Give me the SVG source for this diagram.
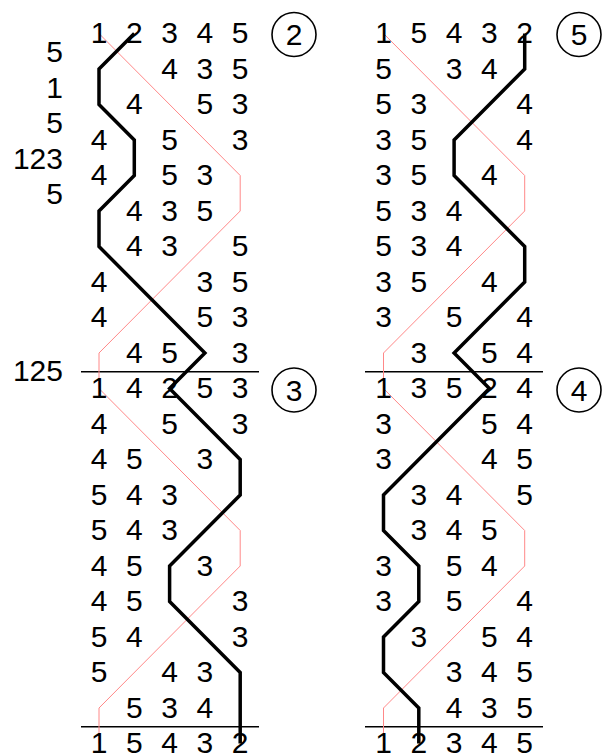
<svg xmlns="http://www.w3.org/2000/svg" width="612" height="756" viewBox="0 0 612 756">
<style>
text{font-family:"Liberation Sans",Arial,sans-serif;font-size:30px;fill:#000;text-anchor:middle}
.lbl{text-anchor:end}
.rule{stroke:#000;stroke-width:1.5;fill:none}
.treble{stroke:#f88;stroke-width:1;fill:none}
.work{stroke:#000;stroke-width:3.5;fill:none;stroke-linejoin:miter;stroke-miterlimit:10}
.ring{stroke:#000;stroke-width:1.6;fill:#fff}
</style>
<rect width="612" height="756" fill="#fff"/>
<g id="connectors">
<line class="rule" x1="81" y1="371.7" x2="259" y2="371.7"/>
<line class="rule" x1="81" y1="726.7" x2="259" y2="726.7"/>
<line class="rule" x1="365" y1="371.7" x2="543" y2="371.7"/>
<line class="rule" x1="365" y1="726.7" x2="543" y2="726.7"/>
<polyline class="treble" points="99,33.5 240.2,175.5 240.2,211 99,353 99,388.5 240.2,530.5 240.2,566 99,708 99,743.5"/>
<polyline class="treble" points="383.5,33.5 524.7,175.5 524.7,211 383.5,353 383.5,388.5 524.7,530.5 524.7,566 383.5,708 383.5,743.5"/>
<polyline class="work" points="134.3,33.5 99,69 99,104.5 134.3,140 134.3,175.5 99,211 99,246.5 204.9,353 169.6,388.5 240.2,459.5 240.2,495 169.6,566 169.6,601.5 240.2,672.5 240.2,743.5"/>
<polyline class="work" points="524.7,33.5 524.7,69 454.1,140 454.1,175.5 524.7,246.5 524.7,282 454.1,353 489.4,388.5 383.5,495 383.5,530.5 418.8,566 418.8,601.5 383.5,637 383.5,672.5 418.8,708 418.8,743.5"/>
</g>
<g id="place-notation">
<text class="lbl" x="63" y="62">5</text>
<text class="lbl" x="63" y="97.5">1</text>
<text class="lbl" x="63" y="133">5</text>
<text class="lbl" x="63" y="168.5">123</text>
<text class="lbl" x="63" y="204">5</text>
<text class="lbl" x="63" y="380.5">125</text>
</g>
<g id="lead-1">
<text x="99" y="43.3">1</text><text x="134.3" y="43.3">2</text><text x="169.6" y="43.3">3</text><text x="204.9" y="43.3">4</text><text x="240.2" y="43.3">5</text>
<text x="169.6" y="78.8">4</text><text x="204.9" y="78.8">3</text><text x="240.2" y="78.8">5</text>
<text x="134.3" y="114.3">4</text><text x="204.9" y="114.3">5</text><text x="240.2" y="114.3">3</text>
<text x="99" y="149.8">4</text><text x="169.6" y="149.8">5</text><text x="240.2" y="149.8">3</text>
<text x="99" y="185.3">4</text><text x="169.6" y="185.3">5</text><text x="204.9" y="185.3">3</text>
<text x="134.3" y="220.8">4</text><text x="169.6" y="220.8">3</text><text x="204.9" y="220.8">5</text>
<text x="134.3" y="256.3">4</text><text x="169.6" y="256.3">3</text><text x="240.2" y="256.3">5</text>
<text x="99" y="291.8">4</text><text x="204.9" y="291.8">3</text><text x="240.2" y="291.8">5</text>
<text x="99" y="327.3">4</text><text x="204.9" y="327.3">5</text><text x="240.2" y="327.3">3</text>
<text x="134.3" y="362.8">4</text><text x="169.6" y="362.8">5</text><text x="240.2" y="362.8">3</text>
</g>
<g id="lead-2">
<text x="99" y="398.3">1</text><text x="134.3" y="398.3">4</text><text x="169.6" y="398.3">2</text><text x="204.9" y="398.3">5</text><text x="240.2" y="398.3">3</text>
<text x="99" y="433.8">4</text><text x="169.6" y="433.8">5</text><text x="240.2" y="433.8">3</text>
<text x="99" y="469.3">4</text><text x="134.3" y="469.3">5</text><text x="204.9" y="469.3">3</text>
<text x="99" y="504.8">5</text><text x="134.3" y="504.8">4</text><text x="169.6" y="504.8">3</text>
<text x="99" y="540.3">5</text><text x="134.3" y="540.3">4</text><text x="169.6" y="540.3">3</text>
<text x="99" y="575.8">4</text><text x="134.3" y="575.8">5</text><text x="204.9" y="575.8">3</text>
<text x="99" y="611.3">4</text><text x="134.3" y="611.3">5</text><text x="240.2" y="611.3">3</text>
<text x="99" y="646.8">5</text><text x="134.3" y="646.8">4</text><text x="240.2" y="646.8">3</text>
<text x="99" y="682.3">5</text><text x="169.6" y="682.3">4</text><text x="204.9" y="682.3">3</text>
<text x="134.3" y="717.8">5</text><text x="169.6" y="717.8">3</text><text x="204.9" y="717.8">4</text>
<text x="99" y="753.3">1</text><text x="134.3" y="753.3">5</text><text x="169.6" y="753.3">4</text><text x="204.9" y="753.3">3</text><text x="240.2" y="753.3">2</text>
</g>
<g id="lead-5">
<text x="383.5" y="43.3">1</text><text x="418.8" y="43.3">5</text><text x="454.1" y="43.3">4</text><text x="489.4" y="43.3">3</text><text x="524.7" y="43.3">2</text>
<text x="383.5" y="78.8">5</text><text x="454.1" y="78.8">3</text><text x="489.4" y="78.8">4</text>
<text x="383.5" y="114.3">5</text><text x="418.8" y="114.3">3</text><text x="524.7" y="114.3">4</text>
<text x="383.5" y="149.8">3</text><text x="418.8" y="149.8">5</text><text x="524.7" y="149.8">4</text>
<text x="383.5" y="185.3">3</text><text x="418.8" y="185.3">5</text><text x="489.4" y="185.3">4</text>
<text x="383.5" y="220.8">5</text><text x="418.8" y="220.8">3</text><text x="454.1" y="220.8">4</text>
<text x="383.5" y="256.3">5</text><text x="418.8" y="256.3">3</text><text x="454.1" y="256.3">4</text>
<text x="383.5" y="291.8">3</text><text x="418.8" y="291.8">5</text><text x="489.4" y="291.8">4</text>
<text x="383.5" y="327.3">3</text><text x="454.1" y="327.3">5</text><text x="524.7" y="327.3">4</text>
<text x="418.8" y="362.8">3</text><text x="489.4" y="362.8">5</text><text x="524.7" y="362.8">4</text>
</g>
<g id="lead-4">
<text x="383.5" y="398.3">1</text><text x="418.8" y="398.3">3</text><text x="454.1" y="398.3">5</text><text x="489.4" y="398.3">2</text><text x="524.7" y="398.3">4</text>
<text x="383.5" y="433.8">3</text><text x="489.4" y="433.8">5</text><text x="524.7" y="433.8">4</text>
<text x="383.5" y="469.3">3</text><text x="489.4" y="469.3">4</text><text x="524.7" y="469.3">5</text>
<text x="418.8" y="504.8">3</text><text x="454.1" y="504.8">4</text><text x="524.7" y="504.8">5</text>
<text x="418.8" y="540.3">3</text><text x="454.1" y="540.3">4</text><text x="489.4" y="540.3">5</text>
<text x="383.5" y="575.8">3</text><text x="454.1" y="575.8">5</text><text x="489.4" y="575.8">4</text>
<text x="383.5" y="611.3">3</text><text x="454.1" y="611.3">5</text><text x="524.7" y="611.3">4</text>
<text x="418.8" y="646.8">3</text><text x="489.4" y="646.8">5</text><text x="524.7" y="646.8">4</text>
<text x="454.1" y="682.3">3</text><text x="489.4" y="682.3">4</text><text x="524.7" y="682.3">5</text>
<text x="454.1" y="717.8">4</text><text x="489.4" y="717.8">3</text><text x="524.7" y="717.8">5</text>
<text x="383.5" y="753.3">1</text><text x="418.8" y="753.3">2</text><text x="454.1" y="753.3">3</text><text x="489.4" y="753.3">4</text><text x="524.7" y="753.3">5</text>
</g>
<g id="marker-2"><circle class="ring" cx="294" cy="34.5" r="22"/><text x="294" y="45.3">2</text></g>
<g id="marker-3"><circle class="ring" cx="294" cy="390" r="22"/><text x="294" y="400.8">3</text></g>
<g id="marker-5"><circle class="ring" cx="579" cy="34.5" r="22"/><text x="579" y="45.3">5</text></g>
<g id="marker-4"><circle class="ring" cx="579" cy="390" r="22"/><text x="579" y="400.8">4</text></g>
</svg>
